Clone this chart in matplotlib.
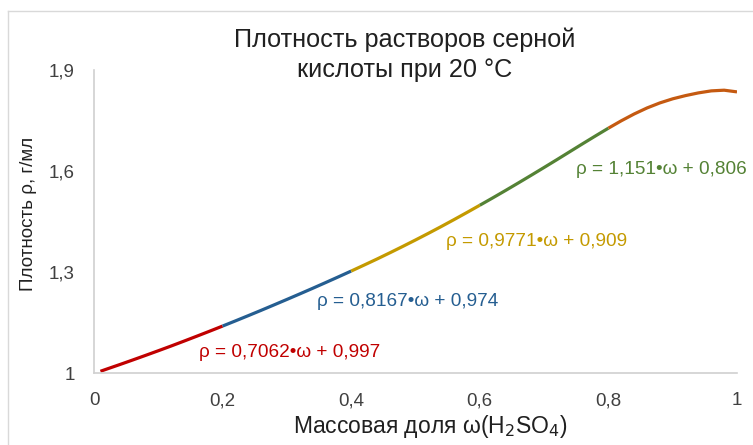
import numpy as np
import matplotlib.pyplot as plt
from matplotlib.lines import Line2D

# mass fraction of H2SO4 and solution density at 20 C, g/ml
omega = np.array([0.01, 0.02, 0.04, 0.06, 0.08, 0.10, 0.12, 0.14, 0.16, 0.18,
                  0.20, 0.22, 0.24, 0.26, 0.28, 0.30, 0.32, 0.34, 0.36, 0.38,
                  0.40, 0.42, 0.44, 0.46, 0.48, 0.50, 0.52, 0.54, 0.56, 0.58,
                  0.60, 0.62, 0.64, 0.66, 0.68, 0.70, 0.72, 0.74, 0.76, 0.78,
                  0.80, 0.82, 0.84, 0.86, 0.88, 0.90, 0.92, 0.94, 0.96, 0.98, 1.00])
rho = np.array([1.0051, 1.0118, 1.0250, 1.0385, 1.0522, 1.0661, 1.0802, 1.0947, 1.1094, 1.1243,
                1.1394, 1.1548, 1.1704, 1.1862, 1.2023, 1.2185, 1.2349, 1.2515, 1.2684, 1.2855,
                1.3028, 1.3205, 1.3384, 1.3569, 1.3758, 1.3951, 1.4148, 1.4350, 1.4557, 1.4768,
                1.4983, 1.5200, 1.5421, 1.5646, 1.5874, 1.6105, 1.6338, 1.6574, 1.6810, 1.7043,
                1.7272, 1.7491, 1.7693, 1.7872, 1.8022, 1.8144, 1.8240, 1.8320, 1.8380, 1.8400, 1.8350])

bounds = [0.0, 0.2, 0.4, 0.6, 0.8, 1.0]
colors = ['#C00000', '#255E91', '#C49A00', '#548235', '#C55A11']
fits = ['ρ = 0,7062•ω + 0,997', 'ρ = 0,8167•ω + 0,974', 'ρ = 0,9771•ω + 0,909', 'ρ = 1,151•ω + 0,806']
fit_pos = [(0.305, 1.062), (0.488, 1.211), (0.689, 1.392), (0.882, 1.603)]

plt.rcParams['font.family'] = ['Liberation Sans Narrow', 'Liberation Sans', 'DejaVu Sans']
sans = ['Liberation Sans', 'DejaVu Sans']

fig = plt.figure(figsize=(7.53, 4.45), dpi=100)
ax = fig.add_axes([94/753, 1-373/445, 643/753, 303/445])

for i in range(5):
    m = (omega >= bounds[i] - 1e-9) & (omega <= bounds[i+1] + 1e-9)
    ax.plot(omega[m], rho[m], color=colors[i], lw=2.3, solid_capstyle='butt')

for i, t in enumerate(fits):
    ax.text(fit_pos[i][0], fit_pos[i][1], t, color=colors[i], fontsize=13.7,
            ha='center', va='center', family=sans)

ax.set_xlim(0, 1)
ax.set_ylim(1, 1.9)
ax.set_xticks([0, 0.2, 0.4, 0.6, 0.8, 1])
ax.set_xticklabels(['0', '0,2', '0,4', '0,6', '0,8', '1'])
ax.set_yticks([1, 1.3, 1.6, 1.9])
ax.set_yticklabels(['1', '1,3', '1,6', '1,9'])
ax.tick_params(length=0, labelsize=13.5, colors='#404040')
ax.tick_params(axis='x', pad=14)
ax.tick_params(axis='y', pad=14)
for s in ['top', 'right']:
    ax.spines[s].set_visible(False)
for s in ['left', 'bottom']:
    ax.spines[s].set_color('#D0D0D0')
    ax.spines[s].set_linewidth(1.2)

fig.text(29/753, 1-214/445, 'Плотность ρ, г/мл', fontsize=13.5, color='#202020',
         rotation=90, ha='center', va='center', family=sans)
fig.text(430/753, 1-426/445, 'Массовая доля ω(H$_2$SO$_4$)', fontsize=16.5, color='#202020',
         ha='center', va='center', family=sans)

fig.text(405/753, 1-55/445, 'Плотность растворов серной\nкислоты при 20 °C', fontsize=18.2,
         ha='center', va='center', color='#202020', linespacing=1.3, family=sans)

# chart frame
fig.add_artist(Line2D([8/753, 8/753], [0, 1-11/445], color='#D9D9D9', lw=1))
fig.add_artist(Line2D([8/753, 1], [1-11/445, 1-11/445], color='#D9D9D9', lw=1))

fig.savefig('out.png', dpi=100)
